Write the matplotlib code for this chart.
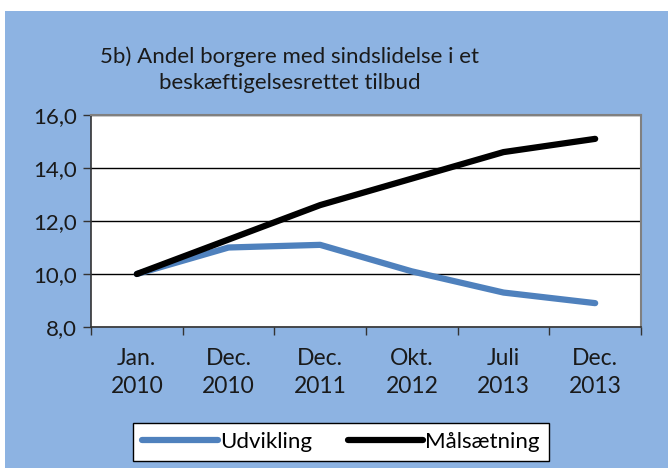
import matplotlib
matplotlib.use("Agg")
import matplotlib.pyplot as plt
from matplotlib.patches import Rectangle
from matplotlib.lines import Line2D

categories = ["Jan.\n2010", "Dec.\n2010", "Dec.\n2011", "Okt.\n2012", "Juli\n2013", "Dec.\n2013"]
udvikling = [10.0, 11.0, 11.1, 10.1, 9.3, 8.9]
maalsaetning = [10.0, 11.3, 12.6, 13.6, 14.6, 15.1]
yticks = [8.0, 10.0, 12.0, 14.0, 16.0]
title = "5b) Andel borgere med sindslidelse i et\nbeskæftigelsesrettet tilbud"

plt.rcParams['font.family'] = ['Lato', 'DejaVu Sans']

W, H = 668, 468
fig = plt.figure(figsize=(W/100, H/100), dpi=100, facecolor='white')
bg = '#8DB3E2'
fig.patches.append(Rectangle((5/W, 0), 1 - 5/W, (H - 11)/H, transform=fig.transFigure,
                             facecolor=bg, edgecolor='none', zorder=-10))

ax = fig.add_axes([91/W, (H-327)/H, 550/W, 212/H])
ax.set_facecolor('white')
x = list(range(len(categories)))
ax.plot(x, udvikling, color='#4F81BD', lw=4.5, solid_capstyle='round', solid_joinstyle='round', zorder=3)
ax.plot(x, maalsaetning, color='black', lw=4.5, solid_capstyle='round', solid_joinstyle='round', zorder=4)

ax.set_xlim(-0.5, len(categories) - 0.5)
ax.set_ylim(8, 16)
ax.set_yticks(yticks)
ax.set_yticklabels([f"{v:.1f}".replace('.', ',') for v in yticks], fontsize=16, color='#1a1a1a')
ax.yaxis.grid(True, color='black', lw=1)
ax.set_axisbelow(True)

ax.set_xticks([i + 0.5 for i in range(-1, len(categories))])
ax.set_xticklabels([])
ax.set_xticks(x, minor=True)
ax.set_xticklabels(categories, minor=True, fontsize=16.5, color='#1a1a1a', linespacing=1.45)
ax.tick_params(axis='x', which='minor', length=0, pad=15)
ax.tick_params(axis='x', which='major', length=6, width=1, color='#333333', direction='out')
ax.tick_params(axis='y', length=6, width=1, color='#333333', direction='out', pad=4)

for s in ['top', 'right']:
    ax.spines[s].set_color('#808080')
    ax.spines[s].set_linewidth(1.5)
for s in ['left', 'bottom']:
    ax.spines[s].set_color('#333333')
    ax.spines[s].set_linewidth(1.2)

fig.text(290/W, 1 - 70/H, title, ha='center', va='center', multialignment='center',
         fontsize=16, color='#1a1a1a', linespacing=1.4)

handles = [Line2D([], [], color='#4F81BD', lw=4.5, solid_capstyle='round'),
           Line2D([], [], color='black', lw=4.5, solid_capstyle='round')]
leg = fig.legend(handles, ["Udvikling", "Målsætning"], loc='center', bbox_to_anchor=(341/W, 1 - 442/H),
                 ncol=2, fontsize=16, frameon=True, fancybox=False, handlelength=3.4,
                 handletextpad=0.1, columnspacing=1.6, borderpad=0.4)
leg.get_frame().set_edgecolor('black')
leg.get_frame().set_linewidth(1)
leg.get_frame().set_facecolor('white')
leg.get_frame().set_alpha(1)

fig.savefig('out.png', dpi=100, facecolor='white')
